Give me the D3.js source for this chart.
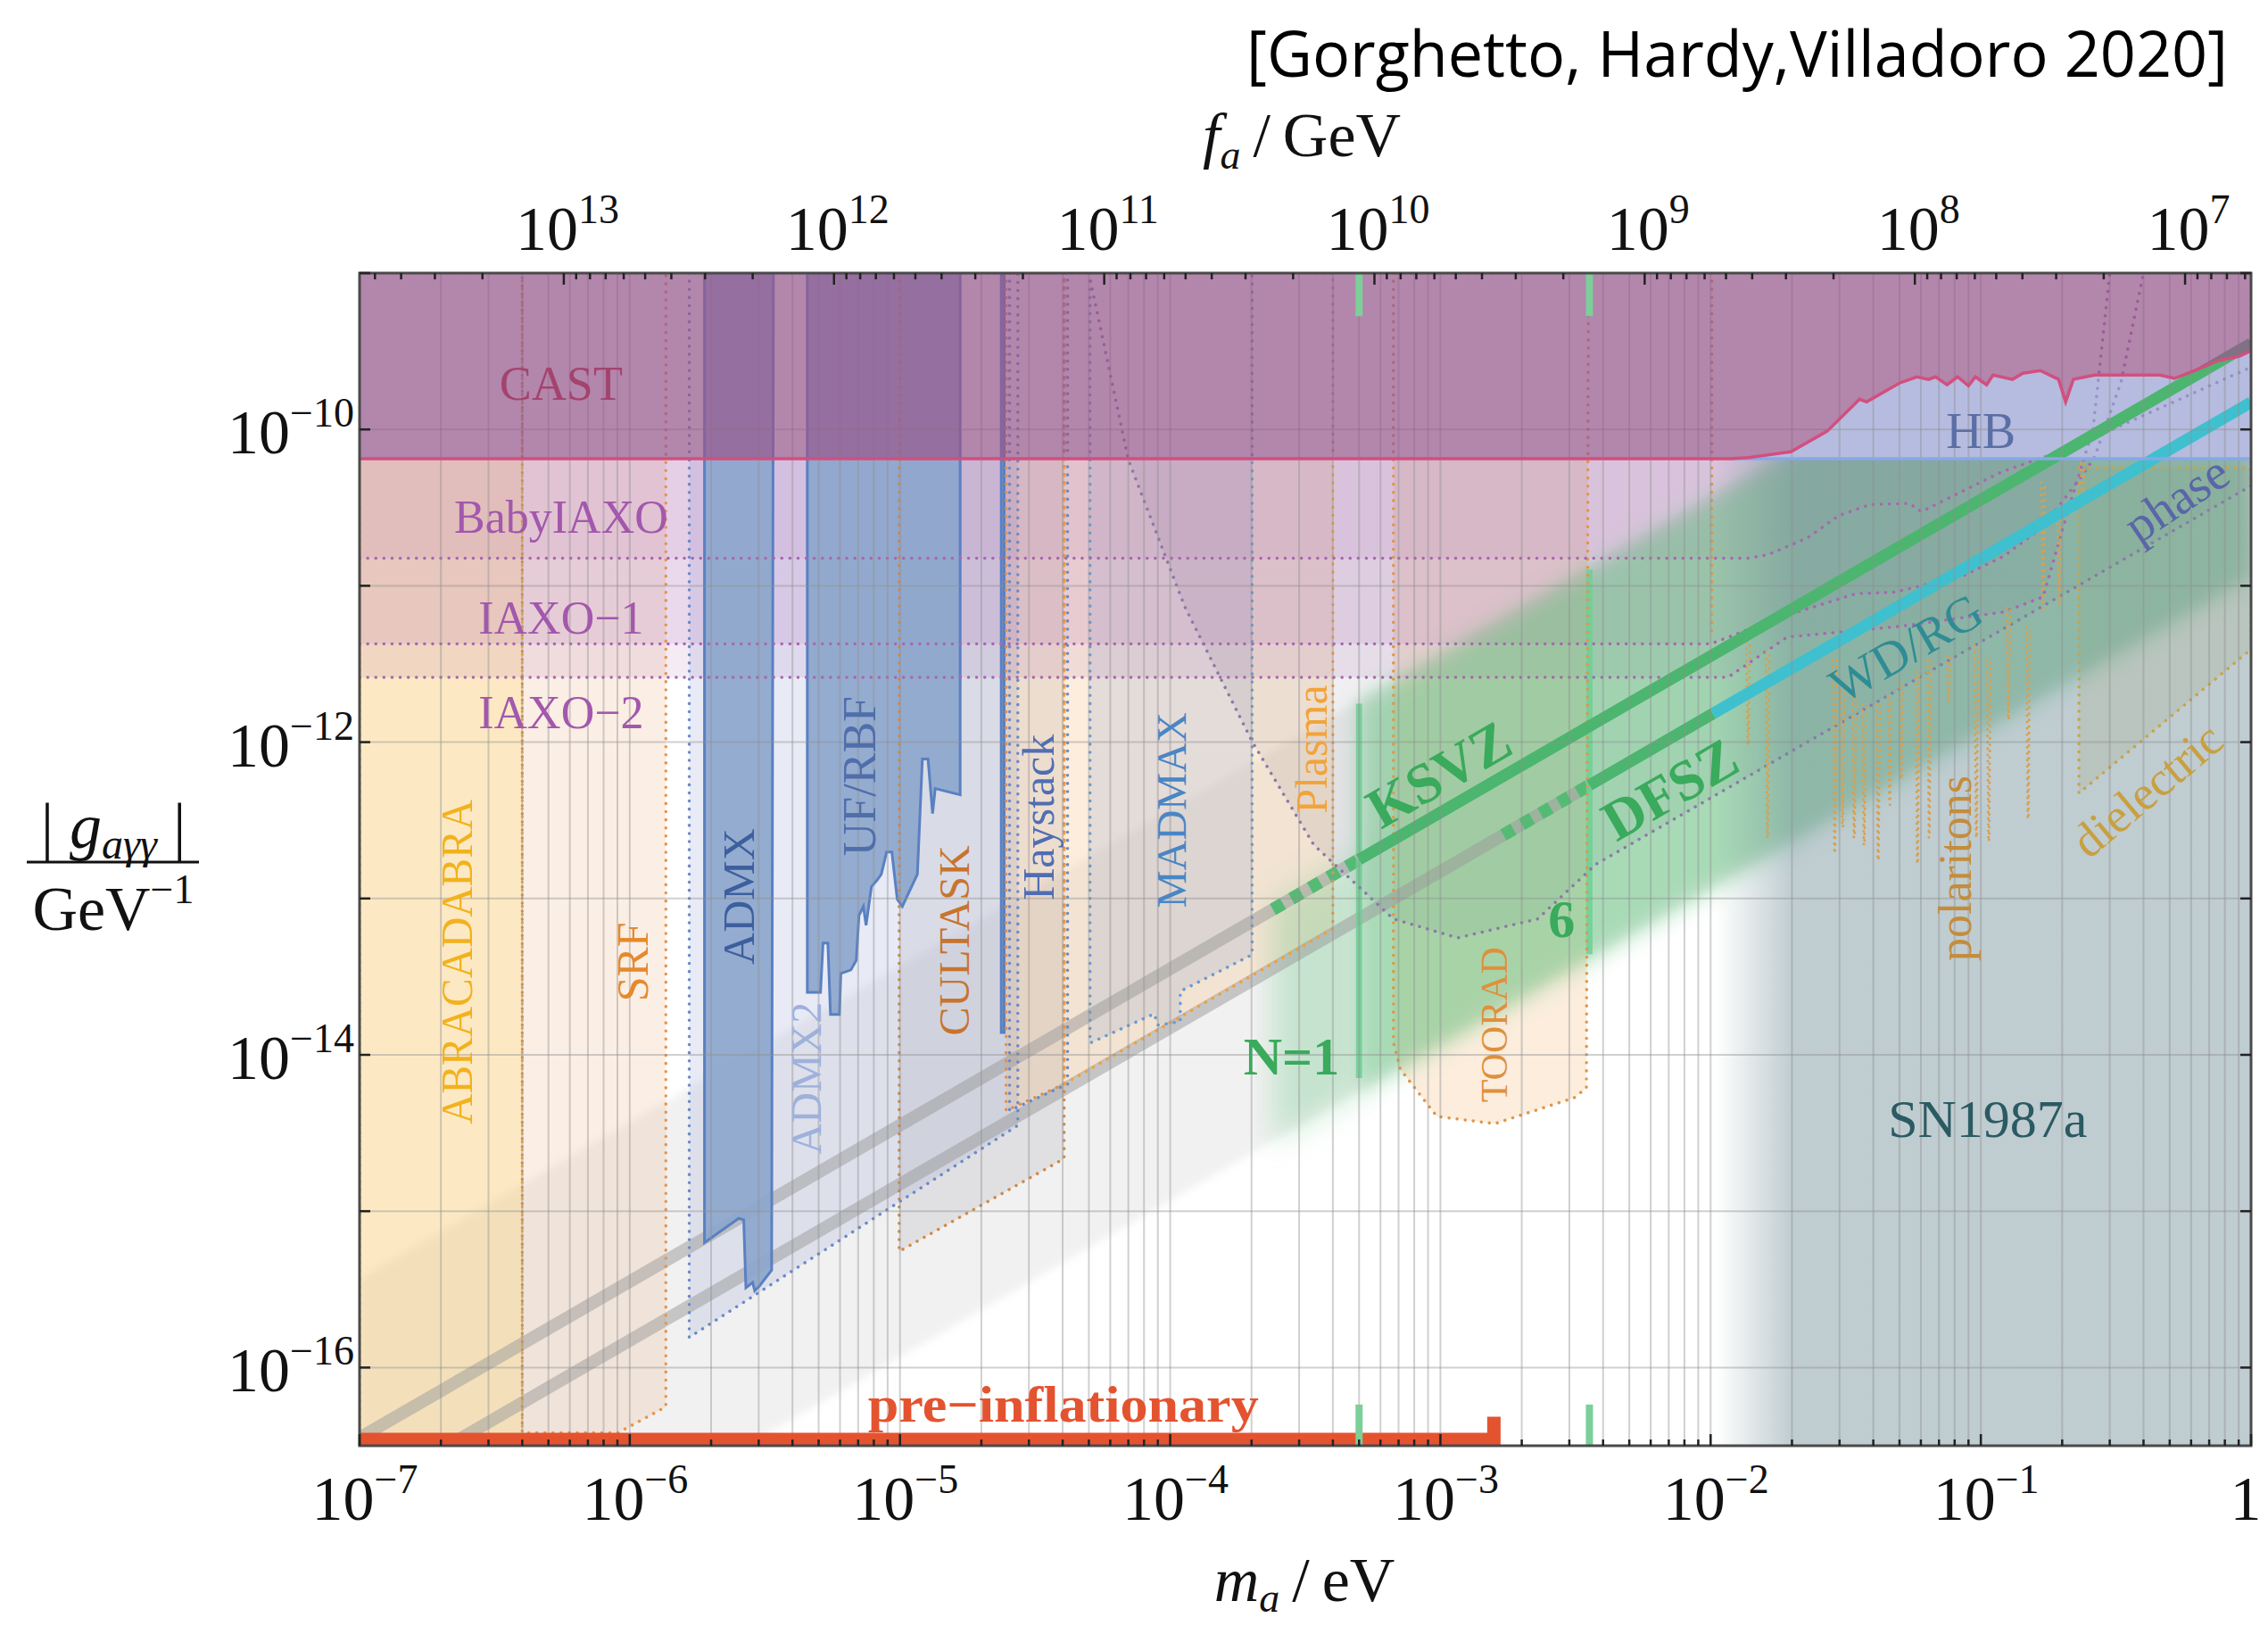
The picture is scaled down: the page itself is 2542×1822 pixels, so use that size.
<!DOCTYPE html>
<html>
<head>
<meta charset="utf-8">
<script src="https://cdn.jsdelivr.net/npm/d3@7"></script>
<style>
  body { margin: 0; background: #fff; }
  svg { display: block; }
  text { font-family: "Liberation Serif", "Times New Roman", serif; }
</style>
</head>
<body>
<svg id="chart" width="2542" height="1822"></svg>
<script>
// ---------- axes ----------
const massDomain = [1e-7, 1];                 // m_a / eV
const couplingDomain = [3.162e-17, 1e-9];     // |g_aγγ| / GeV^-1
const faPerMass = 5.7e6;                      // f_a/GeV = 5.7e6 / (m_a/eV)
const massTicks = [1e-7, 1e-6, 1e-5, 1e-4, 1e-3, 1e-2, 1e-1, 1];
const massTickExp = ["−7", "−6", "−5", "−4", "−3", "−2", "−1", null];
const faTicks = [1e13, 1e12, 1e11, 1e10, 1e9, 1e8, 1e7];
const faTickExp = ["13", "12", "11", "10", "9", "8", "7"];
const couplingTicks = [1e-16, 1e-14, 1e-12, 1e-10];
const couplingTickExp = ["−16", "−14", "−12", "−10"];

// ---------- existing limits ----------
const castCurve = [[1e-7, 6.5e-11], [0.0118, 6.5e-11], [0.0138, 6.6e-11], [0.0198, 7.2e-11], [0.027, 9.75e-11],
  [0.0356, 1.56e-10], [0.0378, 1.50e-10], [0.050, 1.98e-10], [0.058, 2.17e-10], [0.064, 2.09e-10], [0.068, 2.17e-10],
  [0.075, 1.93e-10], [0.082, 2.17e-10], [0.090, 1.90e-10], [0.0955, 2.17e-10], [0.105, 1.93e-10], [0.111, 2.23e-10],
  [0.131, 2.09e-10], [0.143, 2.29e-10], [0.166, 2.38e-10], [0.194, 2.09e-10], [0.206, 1.50e-10], [0.220, 2.09e-10],
  [0.264, 2.23e-10], [0.46, 2.23e-10], [0.52, 2.12e-10], [0.62, 2.38e-10], [0.755, 2.75e-10], [0.906, 2.94e-10], [1, 3.18e-10]];
const hbCoupling = 6.5e-11;
const hbBound = [[0.0118, 6.5e-11], [1, 6.5e-11]];
const admx = [[1.89e-6, 1e-9], [1.89e-6, 6.3e-16], [2.53e-6, 9.0e-16], [2.64e-6, 8.8e-16], [2.69e-6, 3.24e-16],
  [2.85e-6, 3.5e-16], [2.9e-6, 3.1e-16], [3.01e-6, 3.3e-16], [3.35e-6, 4.2e-16], [3.4e-6, 1e-9]];
const ufRbf = [[4.54e-6, 1e-9], [4.54e-6, 2.51e-14], [5.08e-6, 2.51e-14], [5.19e-6, 5.18e-14], [5.41e-6, 5.18e-14],
  [5.53e-6, 1.81e-14], [5.97e-6, 1.81e-14], [6.04e-6, 3.31e-14], [6.58e-6, 3.49e-14], [6.89e-6, 4.03e-14],
  [7.05e-6, 7.78e-14], [7.32e-6, 8.89e-14], [7.49e-6, 6.74e-14], [7.84e-6, 1.19e-13], [8.2e-6, 1.30e-13],
  [8.53e-6, 1.43e-13], [8.92e-6, 1.98e-13], [9.33e-6, 1.98e-13], [9.77e-6, 9.87e-14], [1.02e-5, 8.89e-14],
  [1.16e-5, 1.43e-13], [1.21e-5, 7.79e-13], [1.27e-5, 7.79e-13], [1.32e-5, 3.49e-13], [1.35e-5, 5.05e-13],
  [1.67e-5, 4.6e-13], [1.67e-5, 1e-9]];
const haystackLimit = [[2.37e-5, 1e-9], [2.37e-5, 1.39e-14], [2.43e-5, 1.39e-14], [2.43e-5, 1e-9]];
const sn1987a = [[0.0105, 3.162e-17], [1, 3.162e-17], [1, 1e-9], [0.0105, 1e-9]];
const snFade = [0.0105, 0.020];

// ---------- projected sensitivities ----------
const babyIaxo = [[1e-7, 1.5e-11], [0.0138, 1.5e-11], [0.0163, 1.58e-11], [0.0228, 2.02e-11], [0.0298, 2.81e-11],
  [0.039, 3.31e-11], [0.0544, 3.36e-11], [0.0603, 2.98e-11], [0.118, 5.3e-11], [0.234, 8.1e-11], [1, 2.5e-10]];
const iaxo1 = [[1e-7, 4.25e-12], [0.0100, 4.25e-12], [0.0187, 6.4e-12], [0.0345, 8.9e-12], [0.048, 9.1e-12],
  [0.087, 1.17e-11], [0.122, 1.55e-11], [0.170, 2.39e-11], [0.238, 5.1e-11], [0.264, 6.7e-11], [0.33, 2.0e-10], [0.40, 1e-9]];
const iaxo2 = [[1e-7, 2.6e-12], [0.0116, 2.6e-12], [0.0192, 4.7e-12], [0.05, 5.5e-12], [0.122, 6.8e-12],
  [0.17, 8.5e-12], [0.21, 3.0e-11], [0.26, 1.0e-10], [0.30, 1e-9]];
const abracadabra = [[1e-7, 1e-9], [4.0e-7, 1e-9], [4.0e-7, 3.162e-17], [1e-7, 3.162e-17]];
const srf = [[4.0e-7, 1e-9], [1.36e-6, 1e-9], [1.36e-6, 5.61e-17], [9.06e-7, 3.83e-17], [4.0e-7, 3.83e-17]];
const admx2 = [[1.66e-6, 1e-9], [1.66e-6, 1.56e-16], [2.73e-5, 3.54e-15], [2.73e-5, 1e-9]];
const cultask = [[9.93e-6, 1e-9], [9.93e-6, 5.53e-16], [4.05e-5, 2.17e-15], [4.05e-5, 1e-9]];
const haystack = [[2.47e-5, 1e-9], [2.47e-5, 4.4e-15], [4.05e-5, 6.5e-15], [4.05e-5, 1e-9]];
const plasma = [[4.05e-5, 1e-9], [4.05e-5, 6.5e-15], [4.0e-4, 6.4e-14], [4.0e-4, 1e-9]];
const madmax = [[5.05e-5, 1e-9], [5.05e-5, 1.19e-14], [8.73e-5, 1.83e-14], [9.0e-5, 1.55e-14], [1.09e-4, 1.63e-14],
  [1.09e-4, 2.55e-14], [2.01e-4, 4.37e-14], [2.01e-4, 1e-9]];
const toorad = [[6.7e-4, 1e-9], [6.7e-4, 1.2e-14], [7.1e-4, 8.1e-15], [9.7e-4, 4.04e-15], [1.59e-3, 3.63e-15],
  [3.13e-3, 5.32e-15], [3.47e-3, 6.15e-15], [3.53e-3, 1e-9]];
const phase = [[5.0e-5, 1e-9], [7.0e-5, 6.4e-11], [1.13e-4, 7.4e-12], [2.01e-4, 1.01e-12], [3.4e-4, 2.2e-13],
  [6.7e-4, 7.4e-14], [1.16e-3, 5.6e-14], [2.29e-3, 7.4e-14], [3.75e-3, 1.65e-13], [1, 4.36e-11], [1, 1e-9]];
const dielectric = [[0.2307, 5.7e-11], [0.2307, 4.72e-13], [1, 3.93e-12], [1, 5.7e-11]];
const polaritonEdge = [[0.0101, 1e-9], [0.0101, 4.67e-12]];
// narrow resonances: [m_a, top coupling, deepest coupling]
const polaritonSpikes = [[0.01377, 4.37e-12, 9.6e-13], [0.01626, 3.73e-12, 2.45e-13], [0.0288, 3.36e-12, 1.95e-13],
  [0.0308, 2.17e-12, 2.86e-13], [0.034, 1.93e-12, 2.45e-13], [0.037, 1.74e-12, 2.2e-13], [0.0417, 1.74e-12, 1.76e-13],
  [0.046, 1.93e-12, 3.98e-13], [0.0508, 2.42e-12, 5.8e-13], [0.0583, 2.83e-12, 1.67e-13], [0.0644, 3.36e-12, 2.45e-13],
  [0.076, 3.54e-12, 1.83e-12], [0.0963, 4.14e-12, 2.45e-13], [0.107, 3.36e-12, 2.32e-13], [0.1265, 7.2e-12, 1.39e-12],
  [0.1496, 5.46e-12, 3.23e-13], [0.170, 4.6e-11, 7.2e-12], [0.195, 2.98e-11, 7.58e-12], [0.238, 6.07e-11, 3.31e-11]];

// ---------- QCD axion ----------
const axionBand = [[1e-7, 3.7e-16], [1, 3.7e-9], [1, 1.17e-11], [1e-7, 1.17e-18]];
const postInflationEdge = [[2.4e-4, 9.5e-14], [5.0e-4, 1.98e-13], [5.0e-4, 5.6e-15], [2.4e-4, 2.7e-15]];
const postInflationCore = [[5.0e-4, 1.8e-12], [1, 3.6e-9], [1, 1.12e-11], [5.0e-4, 5.6e-15]];
const ksvzGray = [[1e-7, 3.55e-17], [5.0e-4, 1.775e-13]];
const ksvzDash = [[2.4e-4, 8.5e-14], [5.0e-4, 1.775e-13]];
const ksvzLine = [[5.0e-4, 1.775e-13], [1, 3.55e-10]];
const dfszGray = [[1e-7, 1.49e-17], [3.56e-3, 5.3e-13]];
const dfszDash = [[1.71e-3, 2.55e-13], [3.56e-3, 5.3e-13]];
const dfszGreen = [[3.56e-3, 5.3e-13], [1.02e-2, 1.52e-12]];
const dfszCyan = [[1.02e-2, 1.52e-12], [1, 1.49e-10]];
const domainWallN1 = [[5.0e-4, 1.76e-12], [5.0e-4, 7.1e-15]];
const domainWallN6 = [[3.56e-3, 1.27e-11], [3.56e-3, 4.4e-14]];
const wallMarks = [5.0e-4, 3.56e-3];
const wallMarkTop = [1e-9, 5.3e-10];
const wallMarkBottom = [3.162e-17, 5.8e-17];
const preInflationary = [[1e-7, 3.162e-17], [1e-7, 3.83e-17], [1.49e-3, 3.83e-17], [1.49e-3, 4.85e-17],
  [1.67e-3, 4.85e-17], [1.67e-3, 3.162e-17]];

// ---------- annotations: [text, m_a, g] ----------
const labelAnchors = [
  ["CAST", 5.57e-7, 1.98e-10], ["BabyIAXO", 5.57e-7, 2.79e-11], ["IAXO−1", 5.57e-7, 6.3e-12],
  ["IAXO−2", 5.57e-7, 1.56e-12], ["ABRACADABRA", 2.29e-7, 3.93e-14], ["SRF", 1.02e-6, 3.93e-14],
  ["ADMX", 2.53e-6, 1.03e-13], ["ADMX2", 4.47e-6, 7.1e-15], ["UF/RBF", 7.05e-6, 6.07e-13],
  ["CULTASK", 1.59e-5, 5.38e-14], ["Haystack", 3.25e-5, 3.31e-13], ["MADMAX", 1.01e-4, 3.68e-13],
  ["Plasma", 3.32e-4, 9.0e-13], ["KSVZ", 9.84e-4, 6.3e-13], ["DFSZ", 7.05e-3, 5.05e-13],
  ["N=1", 2.81e-4, 9.87e-15], ["6", 2.81e-3, 7.48e-14], ["TOORAD", 1.58e-3, 1.56e-14],
  ["WD/RG", 0.0528, 4.03e-12], ["phase", 0.528, 3.63e-11], ["polaritons", 0.0802, 1.56e-13],
  ["dielectric", 0.411, 4.98e-13], ["HB", 0.1, 9.9e-11], ["SN1987a", 0.106, 3.93e-15],
  ["pre−inflationary", 4.02e-5, 5.83e-17]
];

// ================= drawing =================
const M = { left: 403, right: 2523, top: 306, bottom: 1620 };
const svg = d3.select("#chart");
const x = d3.scaleLog().domain(massDomain).range([M.left, M.right]);
const y = d3.scaleLog().domain(couplingDomain).range([M.bottom, M.top]);
const fa = d3.scaleLog().domain([faPerMass / massDomain[0], faPerMass / massDomain[1]]).range([M.left, M.right]);
const line = d3.line().x(d => x(d[0])).y(d => y(d[1]));

const defs = svg.append("defs");
defs.append("clipPath").attr("id", "plotClip").append("rect")
  .attr("x", M.left).attr("y", M.top).attr("width", M.right - M.left).attr("height", M.bottom - M.top);
defs.append("clipPath").attr("id", "belowHB").append("rect")
  .attr("x", M.left).attr("y", y(hbCoupling)).attr("width", M.right - M.left).attr("height", M.bottom - y(hbCoupling));
[["soft4", 4], ["soft12", 12], ["soft16", 16]].forEach(([id, s]) => {
  defs.append("filter").attr("id", id).attr("x", "-20%").attr("y", "-20%").attr("width", "140%").attr("height", "140%")
    .append("feGaussianBlur").attr("stdDeviation", s);
});
const snGrad = defs.append("linearGradient").attr("id", "snGrad").attr("gradientUnits", "userSpaceOnUse")
  .attr("x1", x(snFade[0])).attr("x2", x(snFade[1])).attr("y1", 0).attr("y2", 0);
snGrad.append("stop").attr("offset", 0).attr("stop-color", "rgb(110,140,150)").attr("stop-opacity", 0);
snGrad.append("stop").attr("offset", 1).attr("stop-color", "rgb(110,140,150)").attr("stop-opacity", 0.44);

const plot = svg.append("g").attr("clip-path", "url(#plotClip)");
const under = plot.append("g").attr("clip-path", "url(#belowHB)");

function fillShape(parent, pts, fill, opacity) {
  return parent.append("path").attr("d", line(pts) + "Z").attr("fill", fill).attr("fill-opacity", opacity);
}
function dotted(parent, pts, color, closed) {
  return parent.append("path").attr("d", line(pts) + (closed ? "Z" : "")).attr("fill", "none")
    .attr("stroke", color).attr("stroke-width", 3.5).attr("stroke-linecap", "round")
    .attr("stroke-dasharray", "0.1 9");
}
function stroke(parent, pts, color, width, opacity) {
  return parent.append("path").attr("d", line(pts)).attr("fill", "none").attr("stroke", color)
    .attr("stroke-width", width).attr("stroke-opacity", opacity == null ? 1 : opacity);
}
const toTop = c => c.concat([[1, 1e-9], [1e-7, 1e-9]]);

// broad axion band
fillShape(under.append("g").attr("filter", "url(#soft4)"), axionBand, "#cfcfcf", 0.3);

// haloscope / helioscope projections
fillShape(under, abracadabra, "rgb(246,196,100)", 0.38);
fillShape(under, srf, "rgb(238,178,130)", 0.22);
fillShape(under, admx2, "rgb(150,165,215)", 0.22);
fillShape(under, cultask, "rgb(160,160,172)", 0.2);
fillShape(under, haystack, "rgb(240,170,100)", 0.22);
fillShape(under, plasma, "rgb(245,190,130)", 0.28);
fillShape(under, madmax, "rgb(160,175,210)", 0.26);
fillShape(under, toorad, "rgb(245,185,120)", 0.25);
fillShape(under, phase, "rgb(110,100,125)", 0.1);
fillShape(under, dielectric, "rgb(200,185,90)", 0.2);
fillShape(under, toTop(iaxo2), "rgb(165,90,170)", 0.12);
fillShape(under, toTop(iaxo1), "rgb(165,90,170)", 0.12);
fillShape(under, toTop(babyIaxo), "rgb(165,90,170)", 0.08);

// post-inflationary axion band
fillShape(under.append("g").attr("filter", "url(#soft16)"), postInflationEdge, "rgb(95,195,125)", 0.3);
fillShape(under.append("g").attr("filter", "url(#soft12)"), postInflationCore, "rgb(95,195,125)", 0.5);

// SN1987a
under.append("path").attr("d", line(sn1987a) + "Z").attr("fill", "url(#snGrad)");

// low-mass model lines
stroke(plot, ksvzGray, "#9a9a9a", 14, 0.5);
stroke(plot, dfszGray, "#9a9a9a", 14, 0.5);
stroke(plot, ksvzDash, "#55bb74", 14, 1).attr("stroke-dasharray", "13 11");
stroke(plot, dfszDash, "#55bb74", 14, 1).attr("stroke-dasharray", "13 11");
stroke(plot, domainWallN1, "#6fcf95", 7, 0.85);
stroke(plot, domainWallN6, "#6fcf95", 7, 0.85);

// existing haloscope limits
[admx, ufRbf, haystackLimit].forEach(p => {
  fillShape(plot, p, "#8ca6cc", 0.92).attr("stroke", "#5a80c2").attr("stroke-width", 3);
});

// dotted outlines
dotted(plot, abracadabra, "#f0b43c", true);
dotted(plot, srf, "#e8944a", true);
dotted(plot, admx2, "#6a8ac8", true);
dotted(plot, cultask, "#d08a4a", true);
dotted(plot, haystack, "#e0904a", true);
dotted(plot, haystack.map(d => [d[0] * 1.03, d[1]]), "#6a8ac8", true);
dotted(plot, plasma, "#f0a040", true);
dotted(plot, madmax, "#6a9ad0", true);
dotted(plot, toorad, "#e0964a", true);
dotted(plot, phase, "#8a7aa8", false);
dotted(plot, dielectric, "#c8a448", true);
dotted(plot, babyIaxo, "#a866b0", false);
dotted(plot, iaxo1, "#a866b0", false);
dotted(plot, iaxo2, "#a866b0", false);
dotted(plot, polaritonEdge, "#e0964a", false);
polaritonSpikes.forEach(([m, gt, gb]) => {
  dotted(plot, [[m * 0.985, gt], [m * 0.997, gb], [m * 1.003, gb], [m * 1.015, gt]], "#d8a050", false)
    .attr("stroke-width", 3).attr("stroke-dasharray", "0.1 7");
});

// HB
const hbShape = castCurve.filter(d => d[0] >= 0.0118).concat([[1, hbCoupling]]);
fillShape(plot, hbShape, "rgb(150,160,210)", 0.7);

// KSVZ / DFSZ
stroke(plot, ksvzLine, "#4cb56f", 13);
stroke(plot, dfszGreen, "#4cb56f", 13);
stroke(plot, dfszCyan, "#3ec0cf", 13);

// grid
const grid = plot.append("g").attr("stroke", "#8f8f8f").attr("stroke-opacity", 0.42).attr("stroke-width", 2);
const minorMass = [];
for (let e = -7; e <= -1; e++) for (let k = 1; k <= 9; k++) minorMass.push(k * Math.pow(10, e));
minorMass.push(1);
minorMass.forEach(m => grid.append("line").attr("x1", x(m)).attr("x2", x(m)).attr("y1", M.top).attr("y2", M.bottom));
for (let e = -16; e <= -10; e++) {
  const g = Math.pow(10, e);
  grid.append("line").attr("x1", M.left).attr("x2", M.right).attr("y1", y(g)).attr("y2", y(g));
}

// CAST and HB boundary
fillShape(plot, toTop(castCurve), "rgb(150,88,140)", 0.72);
stroke(plot, hbBound, "#86a8e8", 3.5);
stroke(plot, castCurve, "#d24f7e", 3.5);

// pre-inflationary bar and wall markers
fillShape(plot, preInflationary, "#e4532f", 1);
wallMarks.forEach(m => {
  stroke(plot, [[m, wallMarkTop[0]], [m, wallMarkTop[1]]], "#7ccf99", 8);
  stroke(plot, [[m, wallMarkBottom[0]], [m, wallMarkBottom[1]]], "#7ccf99", 8);
});

// ---------- labels ----------
const labelStyle = {
  "CAST": { c: "#a3446e", s: 54 },
  "BabyIAXO": { c: "#a258ac", s: 52 },
  "IAXO−1": { c: "#a258ac", s: 52 },
  "IAXO−2": { c: "#a258ac", s: 52 },
  "ABRACADABRA": { c: "#f2b21e", s: 50, r: -90, len: 364 },
  "SRF": { c: "#e6892c", s: 50, r: -90 },
  "ADMX": { c: "#3e5f9e", s: 50, r: -90 },
  "ADMX2": { c: "#9fb1da", s: 48, r: -90 },
  "UF/RBF": { c: "#4f6eaa", s: 52, r: -90 },
  "CULTASK": { c: "#c8742e", s: 48, r: -90 },
  "Haystack": { c: "#4f6eb2", s: 50, r: -90 },
  "MADMAX": { c: "#4a86c4", s: 47, r: -90 },
  "Plasma": { c: "#f2a43a", s: 50, r: -90 },
  "KSVZ": { c: "#3aaa5c", s: 64, r: -30, b: true },
  "DFSZ": { c: "#3aaa5c", s: 64, r: -30, b: true },
  "N=1": { c: "#3aaa5c", s: 60, b: true },
  "6": { c: "#3aaa5c", s: 60, b: true },
  "TOORAD": { c: "#e0903c", s: 42, r: -90 },
  "WD/RG": { c: "#2f8c94", s: 56, r: -30 },
  "phase": { c: "#5a66a8", s: 56, r: -34 },
  "polaritons": { c: "#c48c3c", s: 52, r: -90 },
  "dielectric": { c: "#c8a040", s: 54, r: -40 },
  "HB": { c: "#5b6fa6", s: 56 },
  "SN1987a": { c: "#2b5a62", s: 60 },
  "pre−inflationary": { c: "#e4532f", s: 56, b: true, len: 438 }
};
const gl = svg.append("g");
labelAnchors.forEach(([t, m, g]) => {
  const st = labelStyle[t];
  const cx = x(m), cy = y(g);
  const el = gl.append("text").attr("x", cx).attr("y", cy).attr("dy", "0.35em").attr("text-anchor", "middle")
    .attr("font-size", st.s).attr("fill", st.c).text(t);
  if (st.b) el.attr("font-weight", "bold");
  if (st.r) el.attr("transform", `rotate(${st.r},${cx},${cy})`);
  if (st.len) el.attr("textLength", st.len).attr("lengthAdjust", "spacingAndGlyphs");
});

// ---------- axes ----------
const ax = svg.append("g");
ax.append("rect").attr("x", M.left).attr("y", M.top).attr("width", M.right - M.left).attr("height", M.bottom - M.top)
  .attr("fill", "none").attr("stroke", "#4a4a4a").attr("stroke-width", 3);
const ticks = ax.append("g").attr("stroke", "#222").attr("stroke-width", 2.5);
minorMass.forEach(m => {
  const major = Math.abs(Math.log10(m) - Math.round(Math.log10(m))) < 1e-9;
  const L = major ? 13 : 7;
  ticks.append("line").attr("x1", x(m)).attr("x2", x(m)).attr("y1", M.bottom).attr("y2", M.bottom - L);
});
for (let e = 6; e <= 13; e++) for (let k = 1; k <= 9; k++) {
  const f = k * Math.pow(10, e);
  if (f < faPerMass || f > faPerMass * 1e7) continue;
  const L = k === 1 ? 13 : 7;
  ticks.append("line").attr("x1", fa(f)).attr("x2", fa(f)).attr("y1", M.top).attr("y2", M.top + L);
}
for (let e = -16; e <= -9; e++) {
  const g = Math.pow(10, e);
  if (g > couplingDomain[1]) continue;
  ticks.append("line").attr("x1", M.left).attr("x2", M.left + 12).attr("y1", y(g)).attr("y2", y(g));
  ticks.append("line").attr("x1", M.right).attr("x2", M.right - 12).attr("y1", y(g)).attr("y2", y(g));
}

function powLabel(px, py, exp, anchor) {
  const t = ax.append("text").attr("x", px).attr("y", py).attr("text-anchor", anchor)
    .attr("font-size", 70).attr("fill", "#111");
  if (exp === null) { t.text("1"); return t; }
  t.append("tspan").text("10");
  t.append("tspan").attr("dy", -30).attr("font-size", 46).text(exp);
  return t;
}
massTicks.forEach((m, i) => {
  if (massTickExp[i] === null) powLabel(x(m) - 6, 1703, null, "middle");
  else powLabel(x(m) + 6, 1703, massTickExp[i], "middle");
});
faTicks.forEach((f, i) => powLabel(fa(f) + 4, 280, faTickExp[i], "middle"));
couplingTicks.forEach((g, i) => powLabel(397, y(g) + 27, couplingTickExp[i], "end"));

// axis titles
const mt = ax.append("text").attr("x", 1462).attr("y", 1794).attr("text-anchor", "middle").attr("font-size", 70).attr("fill", "#111");
mt.append("tspan").attr("font-style", "italic").text("m");
mt.append("tspan").attr("font-style", "italic").attr("font-size", 46).attr("dy", 12).text("a");
mt.append("tspan").attr("dy", -12).text("\u2009/\u2009eV");

const ft = ax.append("text").attr("x", 1459).attr("y", 175).attr("text-anchor", "middle").attr("font-size", 70).attr("fill", "#111");
ft.append("tspan").attr("font-style", "italic").text("f");
ft.append("tspan").attr("font-style", "italic").attr("font-size", 46).attr("dy", 14).text("a");
ft.append("tspan").attr("dy", -14).text("\u2009/\u2009GeV");

const num = ax.append("text").attr("x", 127).attr("y", 950).attr("text-anchor", "middle").attr("font-size", 72).attr("fill", "#111");
num.append("tspan").text("| ");
num.append("tspan").attr("font-style", "italic").text("g");
num.append("tspan").attr("font-style", "italic").attr("font-size", 48).attr("dy", 12).text("aγγ");
num.append("tspan").attr("dy", -12).text(" |");
ax.append("line").attr("x1", 30).attr("x2", 223).attr("y1", 966).attr("y2", 966).attr("stroke", "#111").attr("stroke-width", 3);
const den = ax.append("text").attr("x", 127).attr("y", 1042).attr("text-anchor", "middle").attr("font-size", 70).attr("fill", "#111");
den.append("tspan").text("GeV");
den.append("tspan").attr("dy", -30).attr("font-size", 46).text("−1");

// citation
svg.append("text").attr("x", 2497).attr("y", 86).attr("text-anchor", "end")
  .style("font-family", "'Open Sans', 'Noto Sans', sans-serif").attr("font-size", 72).attr("fill", "#000")
  .attr("textLength", 1100).attr("lengthAdjust", "spacingAndGlyphs")
  .text("[Gorghetto, Hardy,Villadoro 2020]");
</script>
</body>
</html>
